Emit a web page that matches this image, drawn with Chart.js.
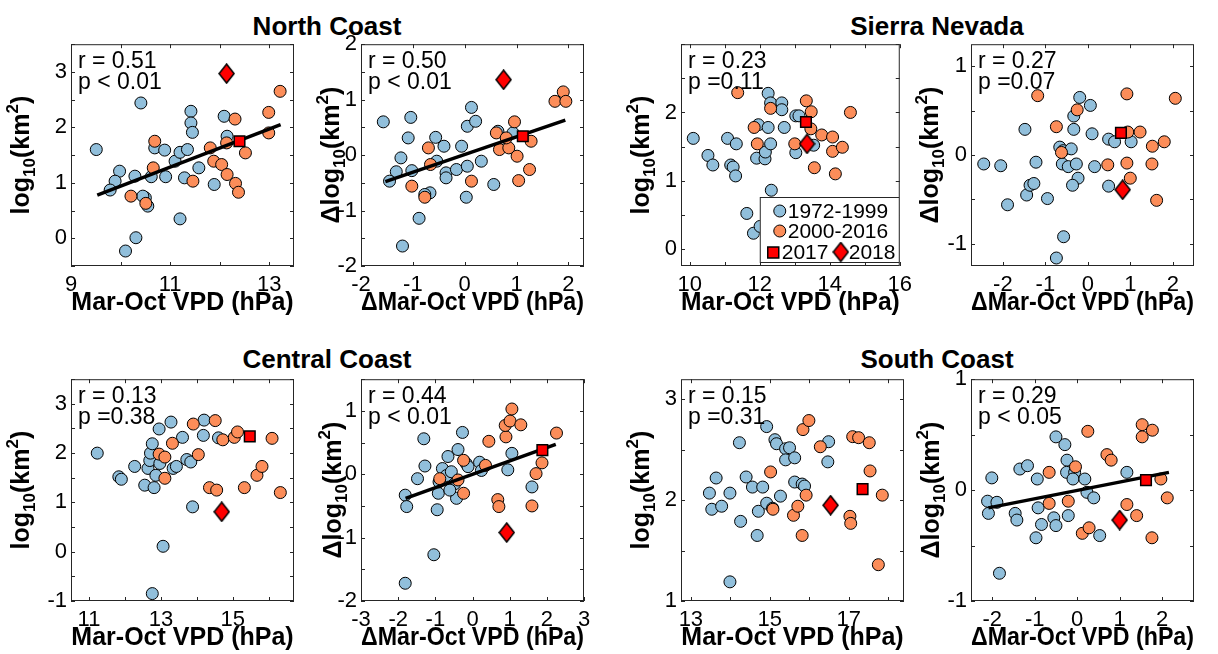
<!DOCTYPE html>
<html>
<head>
<meta charset="utf-8">
<script src="https://cdn.jsdelivr.net/npm/chart.js@4.4.1/dist/chart.umd.min.js"></script>
<style>
  body { margin: 0; background: #fff; width: 1218px; height: 654px; position: relative; overflow: hidden; }
  canvas { position: absolute; }
  .region { position: absolute; width: 400px; height: 30px; line-height: 30px; text-align: center;
            font: bold 26px 'Liberation Sans', Arial, Helvetica, sans-serif; color: #000; }
</style>
</head>
<body>
<div class="region" style="left:127px;top:11px">North Coast</div>
<div class="region" style="left:737px;top:11px">Sierra Nevada</div>
<div class="region" style="left:127px;top:344px">Central Coast</div>
<div class="region" style="left:737px;top:344px">South Coast</div>

<script>
// ---- data: [VPD, log10 area] pairs ----

// North Coast, levels
const ncLevelBlue = [[9.51,1.60],[10.41,2.44],[9.98,1.21],[9.89,1.03],[9.79,0.87],[10.29,1.12],[10.50,0.73],[10.55,0.58],[10.31,0.01],[10.10,-0.23],[10.69,1.63],[10.89,1.59],[10.62,1.11],[10.91,1.11],[11.10,1.39],[11.20,1.55],[11.35,1.60],[11.29,1.09],[11.58,1.27],[11.42,2.29],[11.42,2.08],[11.45,1.91],[11.20,0.35],[11.89,0.97],[12.09,2.20],[12.15,1.84],[10.45,0.76]];
const ncLevelOrange = [[10.69,1.75],[10.21,0.76],[10.51,0.63],[10.66,1.27],[11.46,1.03],[11.81,1.63],[11.88,1.39],[12.04,1.33],[12.15,1.15],[12.32,0.99],[12.38,0.83],[12.31,2.15],[12.52,1.54],[12.14,1.72],[12.99,2.27],[12.99,1.90],[13.22,2.65]];
const ncLevel2017 = [[12.40,1.75]];
const ncLevel2018 = [[12.14,2.97]];
const ncLevelFit = [[9.53,0.78],[13.23,2.05]];
const ncLevelStats = ['r = 0.51', 'p < 0.01'];

// North Coast, anomalies
const ncDeltaBlue = [[-1.57,0.60],[-1.04,0.68],[-1.09,0.31],[-1.23,-0.05],[-1.32,-0.30],[-1.45,-0.47],[-1.02,-0.28],[-0.67,-0.68],[-0.77,-0.71],[-0.88,-1.14],[-1.20,-1.64],[-0.56,0.32],[-0.40,0.16],[-0.54,-0.11],[-0.36,-0.32],[-0.36,-0.41],[-0.16,-0.26],[-0.06,0.16],[0.05,-0.20],[0.05,0.52],[0.13,0.86],[0.21,0.61],[0.32,-0.11],[0.03,-0.76],[0.56,-0.53],[0.64,0.43],[0.93,0.40]];
const ncDeltaOrange = [[-0.70,0.13],[-0.66,-0.17],[-1.02,-0.56],[-0.77,-0.76],[0.13,-0.47],[0.61,0.40],[0.67,0.10],[0.85,0.13],[0.96,0.60],[1.01,-0.02],[1.04,-0.46],[1.28,0.25],[1.25,-0.26],[1.74,0.97],[1.90,1.14],[1.95,0.97],[0.80,0.31]];
const ncDelta2017 = [[1.12,0.34]];
const ncDelta2018 = [[0.75,1.36]];
const ncDeltaFit = [[-1.53,-0.48],[1.94,0.63]];
const ncDeltaStats = ['r = 0.50', 'p < 0.01'];

// Sierra Nevada, levels
const snLevelBlue = [[10.10,1.62],[10.52,1.37],[10.66,1.23],[11.08,1.62],[11.33,1.54],[11.17,1.23],[11.24,1.20],[11.31,1.07],[11.96,1.82],[11.91,1.33],[12.15,1.32],[12.16,1.42],[12.24,1.78],[12.31,1.54],[12.24,2.28],[12.31,2.14],[12.63,2.14],[12.63,2.04],[12.70,1.78],[12.33,0.86],[11.63,0.52],[11.82,0.23],[12.01,0.33],[13.03,1.95],[13.12,1.95],[13.03,1.41],[13.54,1.52]];
const snLevelOrange = [[11.37,2.29],[12.31,2.06],[11.84,1.78],[11.93,1.54],[13.33,2.17],[13.47,2.01],[13.46,1.76],[13.00,1.54],[13.77,1.67],[14.08,1.64],[14.08,1.43],[14.36,1.49],[13.56,1.19],[14.16,1.10],[14.59,2.00]];
const snLevel2017 = [[13.32,1.86]];
const snLevel2018 = [[13.35,1.54]];
const snLevelStats = ['r = 0.23', 'p =0.11'];

// Sierra Nevada, anomalies
const snDeltaBlue = [[-2.45,-0.10],[-2.05,-0.12],[-1.89,-0.56],[-1.48,0.29],[-1.22,-0.08],[-1.44,-0.45],[-1.36,-0.34],[-1.27,-0.32],[-0.95,-0.49],[-0.66,0.09],[-0.58,0.05],[-0.39,0.07],[-0.60,-0.10],[-0.46,-0.13],[-0.27,-0.10],[-0.23,-0.26],[-0.36,-0.34],[-0.33,0.29],[-0.33,0.44],[-0.19,0.65],[0.06,0.56],[0.10,0.24],[0.16,-0.13],[0.49,0.18],[0.63,0.15],[1.02,0.15],[0.49,-0.35],[-0.57,-0.92],[-0.74,-1.16]];
const snDeltaOrange = [[-1.18,0.67],[-0.74,0.32],[-0.62,0.03],[-0.25,0.51],[0.47,-0.11],[0.92,0.69],[0.92,-0.09],[0.94,0.26],[1.23,0.26],[1.52,0.10],[1.80,0.15],[1.51,-0.10],[1.00,-0.26],[1.62,-0.51],[2.06,0.64]];
const snDelta2017 = [[0.78,0.25]];
const snDelta2018 = [[0.82,-0.39]];
const snDeltaStats = ['r = 0.27', 'p =0.07'];

// Central Coast, levels
const ccLevelBlue = [[11.23,2.00],[11.83,1.52],[11.90,1.47],[12.27,1.73],[12.55,1.35],[12.81,1.30],[12.64,1.69],[12.69,1.85],[12.71,2.00],[12.76,2.19],[12.86,1.55],[12.95,2.49],[13.28,2.63],[12.97,1.79],[13.34,1.69],[13.43,1.73],[13.60,2.32],[13.72,1.87],[13.83,1.82],[14.20,2.67],[14.18,2.36],[14.60,2.31],[13.88,0.91],[13.06,0.11],[12.76,-0.85]];
const ccLevelOrange = [[12.95,1.98],[13.11,1.92],[13.32,2.20],[13.11,1.49],[13.90,2.59],[14.51,2.66],[14.04,1.97],[14.35,1.30],[14.55,1.25],[14.72,2.27],[15.04,2.32],[15.13,2.43],[15.32,1.30],[15.67,1.55],[15.81,1.73],[16.09,2.30],[16.32,1.20]];
const ccLevel2017 = [[15.47,2.34]];
const ccLevel2018 = [[14.69,0.81]];
const ccLevelStats = ['r = 0.13', 'p =0.38'];

// Central Coast, anomalies
const ccDeltaBlue = [[-1.31,0.56],[-0.27,0.66],[-1.48,-0.07],[-1.28,0.13],[-1.81,-0.33],[-1.77,-0.51],[-0.92,-0.30],[-0.95,-0.56],[-1.04,-1.27],[-1.81,-1.72],[-0.66,0.28],[-0.39,0.39],[-0.81,0.09],[-0.70,-0.02],[-0.57,0.04],[-0.48,-0.15],[-0.43,-0.38],[-0.61,-0.25],[-0.17,0.17],[-0.12,0.12],[0.19,0.19],[0.24,0.06],[1.06,0.33],[0.95,0.07],[1.60,-0.20],[-0.90,-0.12]];
const ccDeltaOrange = [[-0.88,-0.07],[-0.24,0.22],[-0.39,-0.09],[-0.24,-0.30],[0.35,0.14],[0.44,0.52],[0.68,-0.40],[0.71,-0.51],[0.90,0.59],[0.88,0.77],[1.01,0.84],[1.06,1.03],[1.30,0.78],[1.71,0.01],[1.87,0.18],[1.60,-0.50],[2.26,0.65]];
const ccDelta2017 = [[1.88,0.38]];
const ccDelta2018 = [[0.92,-0.92]];
const ccDeltaFit = [[-1.80,-0.38],[2.24,0.47]];
const ccDeltaStats = ['r = 0.44', 'p < 0.01'];

// South Coast, levels
const scLevelBlue = [[13.47,2.07],[13.64,2.22],[13.53,1.91],[13.78,1.94],[13.99,2.07],[14.23,2.57],[14.26,1.79],[14.40,2.23],[14.56,2.13],[14.82,2.13],[14.71,1.89],[14.68,1.65],[14.92,2.73],[15.13,2.60],[15.17,2.56],[15.40,2.51],[15.50,2.52],[15.40,2.40],[15.63,2.42],[14.92,1.97],[15.07,1.92],[15.27,2.04],[15.63,2.18],[15.82,2.16],[15.88,2.14],[16.49,2.58],[16.47,2.38],[13.99,1.19]];
const scLevelOrange = [[15.02,2.28],[15.08,1.91],[15.60,1.85],[15.71,1.94],[15.92,2.05],[15.84,2.70],[15.99,2.79],[15.82,1.65],[16.28,2.53],[17.10,2.63],[17.25,2.62],[17.52,2.57],[17.54,2.29],[17.03,1.84],[17.05,1.77],[17.85,2.05],[17.75,1.36]];
const scLevel2017 = [[17.35,2.11]];
const scLevel2018 = [[16.54,1.95]];
const scLevelStats = ['r = 0.15', 'p =0.31'];

// South Coast, anomalies
const scDeltaBlue = [[-2.11,-0.10],[-1.89,-0.11],[-2.09,-0.21],[-2.01,0.11],[-1.83,-0.75],[-1.46,-0.21],[-1.42,-0.27],[-1.35,0.19],[-1.17,0.22],[-0.94,0.10],[-0.92,-0.16],[-0.84,-0.31],[-0.97,-0.43],[-0.50,0.48],[-0.29,0.41],[-0.55,-0.25],[-0.50,-0.32],[-0.24,0.27],[-0.21,-0.23],[-0.25,0.16],[-0.06,0.16],[-0.10,0.10],[0.18,0.10],[0.23,-0.02],[0.39,-0.07],[0.53,-0.41],[1.17,0.16]];
const scDeltaOrange = [[-0.66,0.16],[-0.66,-0.12],[-0.04,0.21],[-0.21,-0.10],[0.25,0.53],[0.12,-0.39],[0.28,-0.34],[0.70,0.32],[0.80,0.27],[1.17,-0.13],[1.40,-0.23],[1.53,0.59],[1.77,0.54],[1.53,0.48],[1.97,0.10],[2.12,-0.07],[1.76,-0.43]];
const scDelta2017 = [[1.62,0.09]];
const scDelta2018 = [[1.00,-0.27]];
const scDeltaFit = [[-2.09,-0.16],[2.16,0.16]];
const scDeltaStats = ['r = 0.29', 'p < 0.05'];

// axis ranges and labelled ticks
const ncLevelXRange = [9, 13.5],    ncLevelYRange = [-0.5, 3.5];
const ncDeltaXRange = [-2, 2.3],    ncDeltaYRange = [-2, 2];
const snLevelXRange = [9.75, 16],   snLevelYRange = [-0.25, 3];
const snDeltaXRange = [-2.75, 2.5], snDeltaYRange = [-1.25, 1.25];
const ccLevelXRange = [10.5, 16.7], ccLevelYRange = [-1, 3.5];
const ccDeltaXRange = [-3, 3],      ccDeltaYRange = [-2, 1.5];
const scLevelXRange = [12.75, 18.4],scLevelYRange = [1, 3.2];
const scDeltaXRange = [-2.5, 2.75], scDeltaYRange = [-1, 1];

const ncLevelXLabels = [9, 11, 13],        ncLevelYLabels = [0, 1, 2, 3];
const ncDeltaXLabels = [-2, -1, 0, 1, 2],  ncDeltaYLabels = [-2, -1, 0, 1, 2];
const snLevelXLabels = [10, 12, 14, 16],   snLevelYLabels = [0, 1, 2];
const snDeltaXLabels = [-2, -1, 0, 1, 2],  snDeltaYLabels = [-1, 0, 1];
const ccLevelXLabels = [11, 13, 15],       ccLevelYLabels = [-1, 0, 1, 2, 3];
const ccDeltaXLabels = [-3, -2, -1, 0, 1, 2, 3], ccDeltaYLabels = [-2, -1, 0, 1];
const scLevelXLabels = [13, 15, 17],       scLevelYLabels = [1, 2, 3];
const scDeltaXLabels = [-2, -1, 0, 1, 2],  scDeltaYLabels = [-1, 0, 1];

const seriesNames = ['1972-1999', '2000-2016', '2017', '2018'];

// ---- styling ----
const FONT = "'Liberation Sans', Arial, Helvetica, sans-serif";
const BLUE = '#91bfdb';
const ORANGE = '#fc8d59';
const RED = '#ff0000';
const BOX_W = 223, BOX_H = 225;
const Y_AXIS_W = 70, X_AXIS_H = 52, PAD = 14;

function makeDiamond() {
  const c = document.createElement('canvas');
  c.width = 17; c.height = 21;
  const g = c.getContext('2d');
  g.beginPath();
  g.moveTo(8.5, 1); g.lineTo(16, 10.5); g.lineTo(8.5, 20); g.lineTo(1, 10.5); g.closePath();
  g.fillStyle = RED; g.fill();
  g.lineWidth = 1.5; g.strokeStyle = '#000'; g.stroke();
  return c;
}
const diamond = makeDiamond();

function tickValues(min, max, step) {
  const out = [];
  for (let v = Math.ceil(min / step - 1e-9) * step; v <= max + 1e-9; v += step) {
    out.push(Math.round(v * 1000) / 1000);
  }
  return out;
}

function toPts(arr) { return arr.map(p => ({x: p[0], y: p[1]})); }

const panels = [
  {left: 71,  top: 41,  xr: ncLevelXRange, yr: ncLevelYRange, xl: ncLevelXLabels, yl: ncLevelYLabels, blue: ncLevelBlue, orange: ncLevelOrange, p17: ncLevel2017, p18: ncLevel2018, fit: ncLevelFit, stats: ncLevelStats, delta: false, yGap: 51},
  {left: 361, top: 41,  xr: ncDeltaXRange, yr: ncDeltaYRange, xl: ncDeltaXLabels, yl: ncDeltaYLabels, blue: ncDeltaBlue, orange: ncDeltaOrange, p17: ncDelta2017, p18: ncDelta2018, fit: ncDeltaFit, stats: ncDeltaStats, delta: true, yGap: 31},
  {left: 681, top: 41,  xr: snLevelXRange, yr: snLevelYRange, xl: snLevelXLabels, yl: snLevelYLabels, blue: snLevelBlue, orange: snLevelOrange, p17: snLevel2017, p18: snLevel2018, fit: null, stats: snLevelStats, delta: false, yGap: 41, legend: true},
  {left: 971, top: 41,  xr: snDeltaXRange, yr: snDeltaYRange, xl: snDeltaXLabels, yl: snDeltaYLabels, blue: snDeltaBlue, orange: snDeltaOrange, p17: snDelta2017, p18: snDelta2018, fit: null, stats: snDeltaStats, delta: true, yGap: 42},
  {left: 71,  top: 376, xr: ccLevelXRange, yr: ccLevelYRange, xl: ccLevelXLabels, yl: ccLevelYLabels, blue: ccLevelBlue, orange: ccLevelOrange, p17: ccLevel2017, p18: ccLevel2018, fit: null, stats: ccLevelStats, delta: false, yGap: 51},
  {left: 361, top: 376, xr: ccDeltaXRange, yr: ccDeltaYRange, xl: ccDeltaXLabels, yl: ccDeltaYLabels, blue: ccDeltaBlue, orange: ccDeltaOrange, p17: ccDelta2017, p18: ccDelta2018, fit: ccDeltaFit, stats: ccDeltaStats, delta: true, yGap: 29},
  {left: 681, top: 376, xr: scLevelXRange, yr: scLevelYRange, xl: scLevelXLabels, yl: scLevelYLabels, blue: scLevelBlue, orange: scLevelOrange, p17: scLevel2017, p18: scLevel2018, fit: null, stats: scLevelStats, delta: false, yGap: 41},
  {left: 971, top: 376, xr: scDeltaXRange, yr: scDeltaYRange, xl: scDeltaXLabels, yl: scDeltaYLabels, blue: scDeltaBlue, orange: scDeltaOrange, p17: scDelta2017, p18: scDelta2018, fit: scDeltaFit, stats: scDeltaStats, delta: true, yGap: 41},
];

// box outline plus inward tick marks on all four sides, like MATLAB axes
const frame = {
  id: 'frame',
  beforeDatasetsDraw(chart) {
    const {ctx, chartArea: a, scales: {x, y}} = chart;
    ctx.save();
    ctx.strokeStyle = '#262626';
    ctx.lineWidth = 1;
    ctx.strokeRect(a.left + 0.5, a.top + 0.5, a.width - 1, a.height - 1);
    ctx.beginPath();
    x.ticks.forEach(t => {
      const px = Math.round(x.getPixelForValue(t.value)) + 0.5;
      ctx.moveTo(px, a.bottom); ctx.lineTo(px, a.bottom - 4);
      ctx.moveTo(px, a.top); ctx.lineTo(px, a.top + 4);
    });
    y.ticks.forEach(t => {
      const py = Math.round(y.getPixelForValue(t.value)) + 0.5;
      ctx.moveTo(a.left, py); ctx.lineTo(a.left + 4, py);
      ctx.moveTo(a.right, py); ctx.lineTo(a.right - 4, py);
    });
    ctx.stroke();
    ctx.restore();
  }
};

// y title with sub/superscripts
function drawYTitle(ctx, delta, cx, cy) {
  const size = 25, small = 17;
  const parts = [
    {t: (delta ? 'Δ' : '') + 'log', s: 0},
    {t: '10', s: 1},
    {t: '(km', s: 0},
    {t: '2', s: -1},
    {t: ')', s: 0}
  ];
  ctx.save();
  ctx.translate(cx, cy);
  ctx.rotate(-Math.PI / 2);
  let total = 0;
  parts.forEach(p => {
    ctx.font = `bold ${p.s ? small : size}px ${FONT}`;
    p.w = ctx.measureText(p.t).width;
    total += p.w;
  });
  let x = -total / 2;
  ctx.fillStyle = '#000';
  ctx.textBaseline = 'alphabetic';
  parts.forEach(p => {
    ctx.font = `bold ${p.s ? small : size}px ${FONT}`;
    const dy = p.s === 1 ? 6 : p.s === -1 ? -11 : 0;
    ctx.fillText(p.t, x, 9 + dy);
    x += p.w;
  });
  ctx.restore();
}

function drawLegend(ctx, a) {
  const w = 140, h = 66;
  const lx = a.right - w, ly = a.bottom - 69;
  ctx.save();
  ctx.fillStyle = '#fff';
  ctx.fillRect(lx, ly, w, h);
  ctx.strokeStyle = '#262626';
  ctx.lineWidth = 1;
  ctx.strokeRect(lx + 0.5, ly + 0.5, w - 1, h - 1);
  ctx.font = `21px ${FONT}`;
  ctx.fillStyle = '#000';
  ctx.textBaseline = 'middle';
  const circ = (x, y, col) => {
    ctx.beginPath(); ctx.arc(x, y, 6, 0, Math.PI * 2);
    ctx.fillStyle = col; ctx.fill(); ctx.strokeStyle = '#000'; ctx.stroke();
  };
  circ(lx + 20, ly + 14, BLUE);
  circ(lx + 20, ly + 34, ORANGE);
  ctx.fillStyle = '#000';
  ctx.fillText(seriesNames[0], lx + 28, ly + 15);
  ctx.fillText(seriesNames[1], lx + 28, ly + 35);
  ctx.fillStyle = RED; ctx.lineWidth = 1.5;
  ctx.fillRect(lx + 8, ly + 50, 11, 11);
  ctx.strokeRect(lx + 8, ly + 50, 11, 11);
  ctx.drawImage(diamond, lx + 81 - 8.5, ly + 55 - 10.5);
  ctx.fillStyle = '#000';
  ctx.fillText(seriesNames[2], lx + 22, ly + 56);
  ctx.fillText(seriesNames[3], lx + 89, ly + 56);
  ctx.restore();
}

panels.forEach((p, i) => {
  const canvas = document.createElement('canvas');
  canvas.width = Y_AXIS_W + BOX_W + PAD;
  canvas.height = PAD + BOX_H + X_AXIS_H;
  canvas.style.left = (p.left - Y_AXIS_W) + 'px';
  canvas.style.top = (p.top - PAD) + 'px';
  document.body.appendChild(canvas);

  const deco = {
    id: 'deco' + i,
    afterDraw(chart) {
      const {ctx, chartArea: a} = chart;
      drawYTitle(ctx, p.delta, a.left - p.yGap, (a.top + a.bottom) / 2);
      ctx.save();
      ctx.font = `23px ${FONT}`;
      ctx.fillStyle = '#000';
      ctx.textBaseline = 'alphabetic';
      ctx.fillText(p.stats[0], a.left + 7, a.top + 24);
      ctx.fillText(p.stats[1], a.left + 7, a.top + 45);
      ctx.restore();
      if (p.legend) drawLegend(ctx, a);
    }
  };

  const labelCb = labels => v => labels.some(l => Math.abs(l - v) < 1e-6) ? String(v) : '';

  const datasets = [
    {label: seriesNames[0], data: toPts(p.blue), backgroundColor: BLUE, borderColor: '#000', borderWidth: 1, pointRadius: 6, order: 5, clip: false},
    {label: seriesNames[1], data: toPts(p.orange), backgroundColor: ORANGE, borderColor: '#000', borderWidth: 1, pointRadius: 6, order: 4, clip: false},
    {label: seriesNames[2], data: toPts(p.p17), pointStyle: 'rect', pointRadius: 7.5, backgroundColor: RED, borderColor: '#000', borderWidth: 1.5, order: 2, clip: false},
    {label: seriesNames[3], data: toPts(p.p18), pointStyle: diamond, pointRadius: 8, order: 1, clip: false}
  ];
  if (p.fit) {
    datasets.push({label: 'fit', data: toPts(p.fit), showLine: true, borderColor: '#000', borderWidth: 3.5, pointRadius: 0, order: 3, clip: false});
  }

  new Chart(canvas, {
    type: 'scatter',
    data: {datasets},
    options: {
      responsive: false,
      animation: false,
      devicePixelRatio: 1,
      events: [],
      layout: {padding: {left: 0, top: PAD, right: PAD, bottom: 0}},
      plugins: {legend: {display: false}, tooltip: {enabled: false}},
      scales: {
        x: {
          type: 'linear', min: p.xr[0], max: p.xr[1],
          grid: {display: false, drawTicks: false}, border: {display: false},
          afterBuildTicks: s => { s.ticks = tickValues(p.xr[0], p.xr[1], 1).map(v => ({value: v})); },
          afterFit: s => { s.height = X_AXIS_H; },
          ticks: {padding: 6, autoSkip: false, maxRotation: 0, color: '#000', font: {family: FONT, size: 22}, callback: labelCb(p.xl)},
          title: {display: true, text: (p.delta ? 'Δ' : '') + 'Mar-Oct VPD (hPa)', color: '#000', padding: 0, font: {family: FONT, size: 25, weight: 'bold'}}
        },
        y: {
          type: 'linear', min: p.yr[0], max: p.yr[1],
          grid: {display: false, drawTicks: false}, border: {display: false},
          afterBuildTicks: s => { s.ticks = tickValues(p.yr[0], p.yr[1], 0.5).map(v => ({value: v})); },
          afterFit: s => { s.width = Y_AXIS_W; },
          ticks: {padding: 4, autoSkip: false, color: '#000', font: {family: FONT, size: 22}, callback: labelCb(p.yl)}
        }
      }
    },
    plugins: [frame, deco]
  });
});
</script>
</body>
</html>
